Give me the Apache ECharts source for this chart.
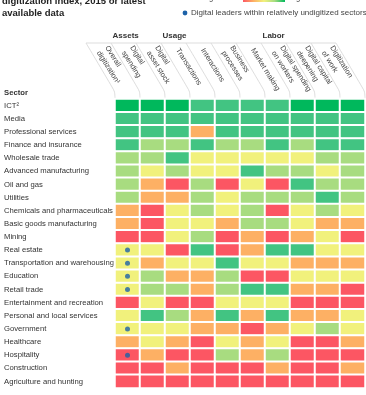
<!DOCTYPE html>
<html><head><meta charset="utf-8">
<script src="https://cdn.jsdelivr.net/npm/echarts@6/dist/echarts.min.js"></script>
<style>html,body{margin:0;padding:0;background:#fff}#c{width:366px;height:395px}</style>
</head><body><div id="c"></div>
<script>
// ---- data ----
const sectors = ['ICT²','Media','Professional services','Finance and insurance','Wholesale trade',
  'Advanced manufacturing','Oil and gas','Utilities','Chemicals and pharmaceuticals',
  'Basic goods manufacturing','Mining','Real estate','Transportation and warehousing','Education',
  'Retail trade','Entertainment and recreation','Personal and local services','Government',
  'Healthcare','Hospitality','Construction','Agriculture and hunting'];
const columns = ['Overall\ndigitization¹','Digital\nspending','Digital\nasset stock','Transactions',
  'Interactions','Business\nprocesses','Market making','Digital spending\non workers',
  'Digital capital\ndeepening','Digitization\nof work'];
const groupNames = ['Assets','Usage','Labor'];
const groupStartCol = [1,3,7];
// digitization level: 0 = lowest ... 5 = highest
const levels = [
  [5,5,5,4,4,4,4,5,5,5],
  [4,4,4,4,4,4,4,4,4,4],
  [4,4,4,1,4,4,4,4,4,4],
  [4,3,3,4,3,3,4,3,4,4],
  [3,3,4,2,2,2,2,2,3,3],
  [3,2,3,2,2,4,3,3,2,3],
  [3,1,0,3,0,2,0,4,3,3],
  [3,1,1,3,2,3,3,3,4,3],
  [1,0,2,3,2,3,0,2,3,2],
  [1,0,2,2,1,3,3,2,1,1],
  [0,0,2,3,0,1,0,1,2,0],
  [2,2,0,4,0,1,4,4,2,2],
  [2,1,2,2,4,2,2,1,1,1],
  [2,3,1,1,3,0,0,2,2,2],
  [2,3,3,1,3,4,4,1,1,0],
  [0,2,0,0,2,2,2,0,0,0],
  [2,4,3,1,4,1,4,1,1,2],
  [2,2,2,1,1,0,1,2,3,2],
  [1,2,1,0,2,1,2,0,0,1],
  [0,1,0,0,3,1,3,0,0,0],
  [0,0,1,0,0,0,1,0,0,1],
  [0,0,0,0,0,0,0,0,0,0]
];
const leaders = ['Real estate','Transportation and warehousing','Education','Retail trade','Government','Hospitality'];
const levelColors = ['#fc5663','#fdb064','#f1f17c','#a8dc80','#42c482','#00b85c'];

// ---- build ----
const heat = [];
levels.forEach((row, r) => row.forEach((v, c) => heat.push([c, r, v])));
const dots = leaders.map(s => [0, sectors.indexOf(s)]);
const FONT = '"Liberation Sans", Arial, sans-serif';

const chart = echarts.init(document.getElementById('c'), null, {renderer: 'canvas'});
chart.setOption({
  animation: false,
  title: {text: 'digitization index, 2015 or latest\navailable data', left: 2, top: -5, padding: 0,
    textStyle: {fontFamily: FONT, fontSize: 9.5, fontWeight: 'bold', color: '#222', lineHeight: 12.5}},
  grid: {left: 115, right: 1, top: 99, bottom: 7},
  xAxis: {type: 'category', data: columns, show: false},
  yAxis: {type: 'category', data: sectors, inverse: true,
    axisLine: {show: false}, axisTick: {show: false}, splitLine: {show: false},
    axisLabel: {align: 'left', margin: 111, fontFamily: FONT, fontSize: 7.7, color: '#333'}},
  visualMap: {type: 'piecewise', show: false, dimension: 2, seriesIndex: 0,
    pieces: levelColors.map((c, i) => ({value: i, color: c}))},
  series: [
    {type: 'heatmap', data: heat, itemStyle: {borderColor: '#fff', borderWidth: 2}},
    {type: 'scatter', data: dots, symbol: 'circle', symbolSize: 5, z: 5,
      itemStyle: {color: '#1d62a8'}}
  ]
});

function drawHeader() {
  const c0 = chart.convertToPixel({xAxisIndex: 0}, 0);
  const c1 = chart.convertToPixel({xAxisIndex: 0}, 1);
  const w = c1 - c0;
  const left = c0 - w / 2;
  const r0 = chart.convertToPixel({yAxisIndex: 0}, 0);
  const r1 = chart.convertToPixel({yAxisIndex: 0}, 1);
  const topY = r0 - (r1 - r0) / 2;
  const slantDx = 29, yTop = 43;
  const rot = -58 * Math.PI / 180;
  const els = [];
  els.push({type: 'line', shape: {x1: left - slantDx, y1: yTop, x2: left + columns.length * w - slantDx, y2: yTop},
    style: {stroke: '#d4d4d4', lineWidth: 0.8}, silent: true});
  for (let i = 0; i <= columns.length; i++) {
    const xe = left + i * w;
    els.push({type: 'polyline', shape: {points: [[xe - slantDx, yTop], [xe - 3, yTop + 44], [xe - 0.5, yTop + 49], [xe, topY]], smooth: 0.3},
      style: {stroke: '#d4d4d4', lineWidth: 0.8, fill: null}, silent: true});
  }
  columns.forEach((t, i) => {
    const cx = left + (i + 0.5) * w;
    els.push({type: 'text', x: cx - 25, y: 49, rotation: rot,
      style: {text: t, align: 'left', verticalAlign: 'middle', fontFamily: FONT, fontSize: 7.4, lineHeight: 9.8, fill: '#444'}});
  });
  groupNames.forEach((g, k) => {
    const x = left + groupStartCol[k] * w - slantDx + 1.5;
    els.push({type: 'text', x: x, y: 36, style: {text: g, align: 'left', verticalAlign: 'middle',
      fontFamily: FONT, fontSize: 8, fontWeight: 'bold', fill: '#333'}});
  });
  els.push({type: 'text', x: 4, y: 93, style: {text: 'Sector', align: 'left', verticalAlign: 'middle',
    fontFamily: FONT, fontSize: 7.7, fontWeight: 'bold', fill: '#333'}});
  // legends
  els.push({type: 'circle', shape: {cx: 185, cy: 13, r: 2.4}, style: {fill: '#1d62a8'}});
  els.push({type: 'text', x: 191, y: 13, style: {text: 'Digital leaders within relatively undigitized sectors',
    align: 'left', verticalAlign: 'middle', fontFamily: FONT, fontSize: 8, fill: '#444'}});
  els.push({type: 'rect', shape: {x: 243, y: -8, width: 42, height: 10},
    style: {fill: new echarts.graphic.LinearGradient(0, 0, 1, 0, [
      {offset: 0, color: '#fc5663'}, {offset: 0.25, color: '#fdb064'}, {offset: 0.5, color: '#f1f17c'},
      {offset: 0.75, color: '#a8dc80'}, {offset: 1, color: '#00b85c'}])}});
  els.push({type: 'text', x: 239, y: 2.5, style: {text: 'Lower\ndigitization', align: 'right', verticalAlign: 'bottom',
    fontFamily: FONT, fontSize: 7.6, lineHeight: 9, fill: '#444'}});
  els.push({type: 'text', x: 290, y: 2.5, style: {text: 'Higher\ndigitization', align: 'left', verticalAlign: 'bottom',
    fontFamily: FONT, fontSize: 7.6, lineHeight: 9, fill: '#444'}});
  chart.setOption({graphic: {elements: els}});
}
drawHeader();
</script>
</body></html>
